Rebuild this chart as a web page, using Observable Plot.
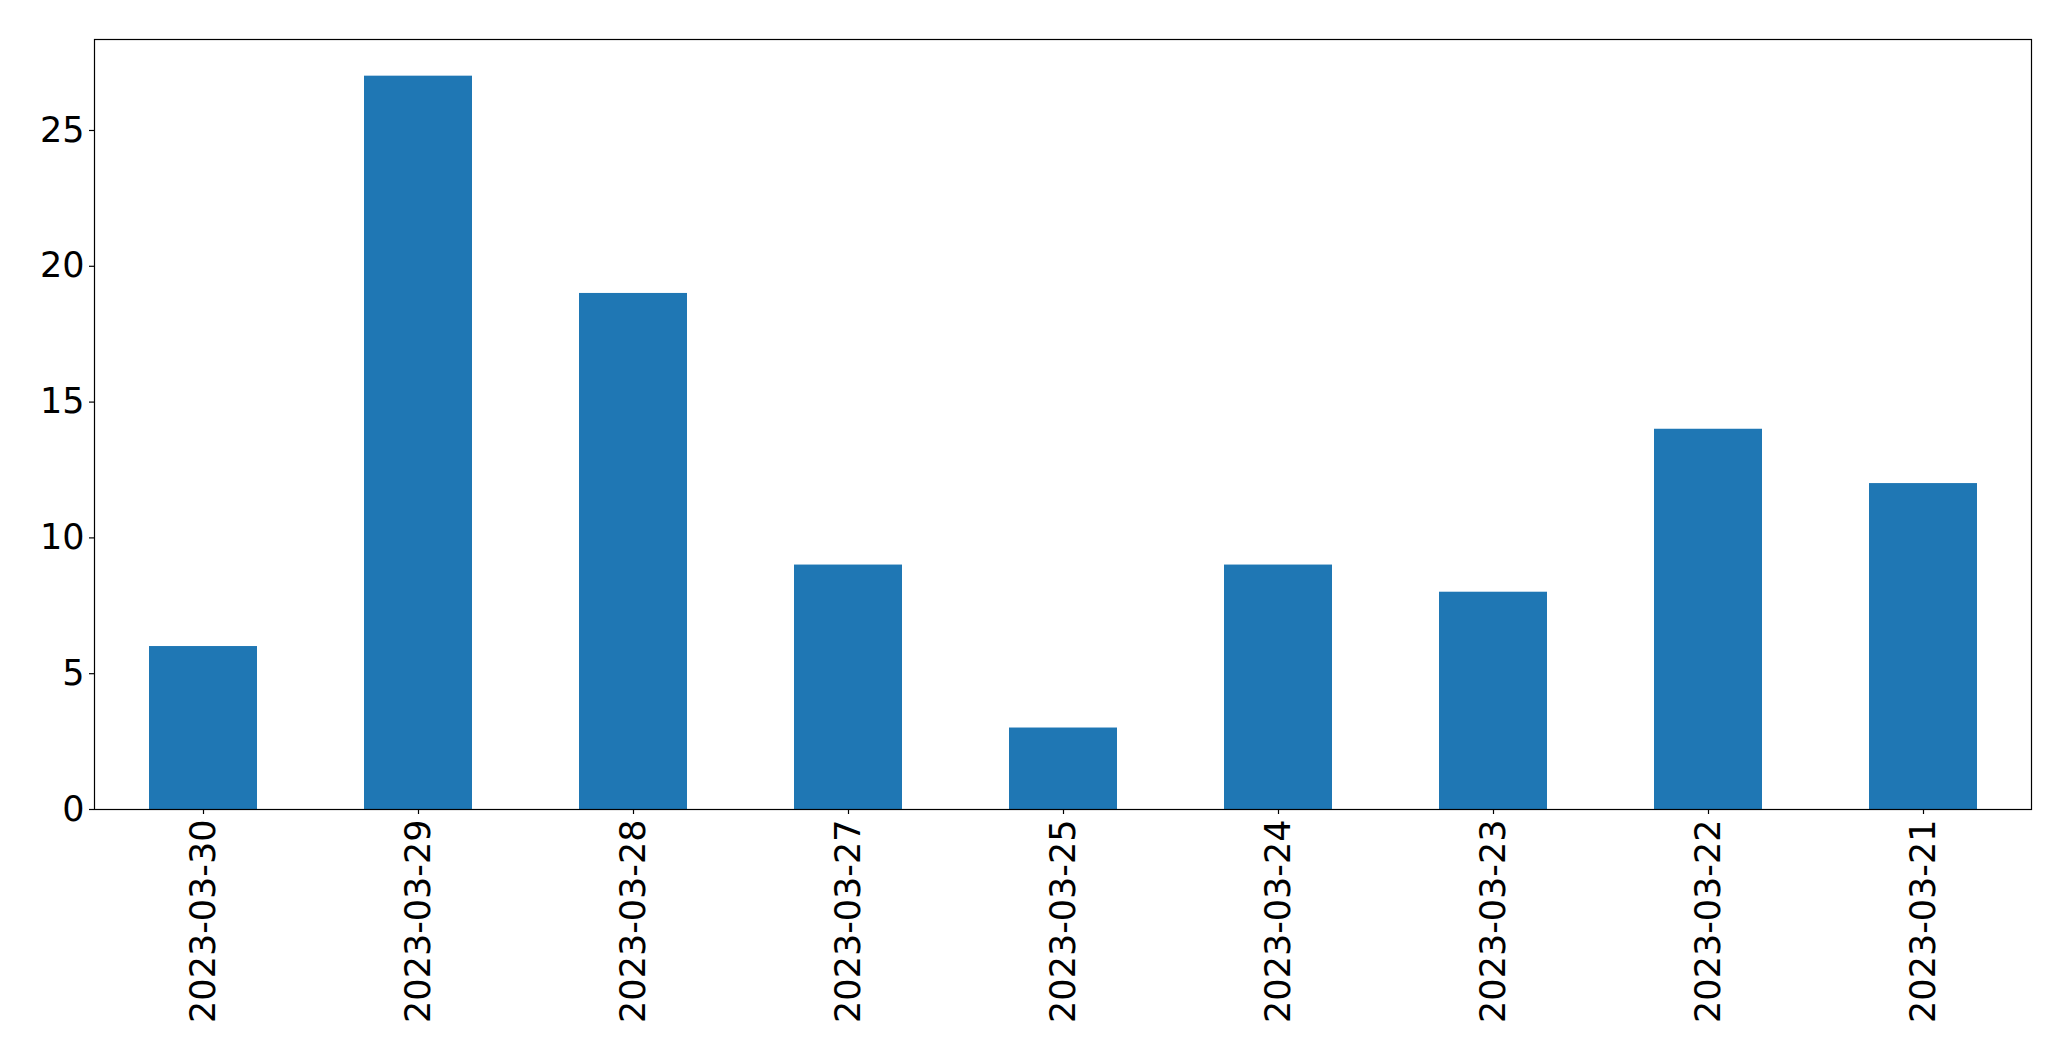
<!DOCTYPE html>
<html>
<head>
<meta charset="utf-8">
<script src="https://cdn.jsdelivr.net/npm/d3@7"></script>
<script src="https://cdn.jsdelivr.net/npm/@observablehq/plot@0.6"></script>
<style>
  html, body { margin: 0; padding: 0; background: #fff; }
</style>
</head>
<body>
<div id="chart"></div>
<script>
const dates = ["2023-03-30", "2023-03-29", "2023-03-28", "2023-03-27", "2023-03-25", "2023-03-24", "2023-03-23", "2023-03-22", "2023-03-21"];
const counts = [6, 27, 19, 9, 3, 9, 8, 14, 12];
const yTicks = [0, 5, 10, 15, 20, 25];

const data = dates.map((d, i) => ({date: d, count: counts[i]}));

const chart = Plot.plot({
  width: 2071,
  height: 1061,
  marginLeft: 94,
  marginRight: 40,
  marginTop: 39,
  marginBottom: 252,
  style: {fontFamily: "DejaVu Sans", fontSize: "35px", color: "black", background: "white"},
  x: {domain: dates, paddingInner: 0.5, paddingOuter: 0.25, label: null},
  y: {domain: [0, 28.35], label: null},
  marks: [
    Plot.barY(data, {x: "date", y: "count", fill: "#1f77b4"}),
    Plot.frame({stroke: "black", strokeWidth: 1.2}),
    Plot.axisY({ticks: yTicks, tickSize: 5, tickPadding: 5, fontSize: 35, label: null, strokeWidth: 1.2}),
    Plot.axisX({tickRotate: -90, tickSize: 5, tickPadding: 5, fontSize: 35, label: null, strokeWidth: 1.2})
  ]
});
document.getElementById("chart").appendChild(chart);
</script>
</body>
</html>
